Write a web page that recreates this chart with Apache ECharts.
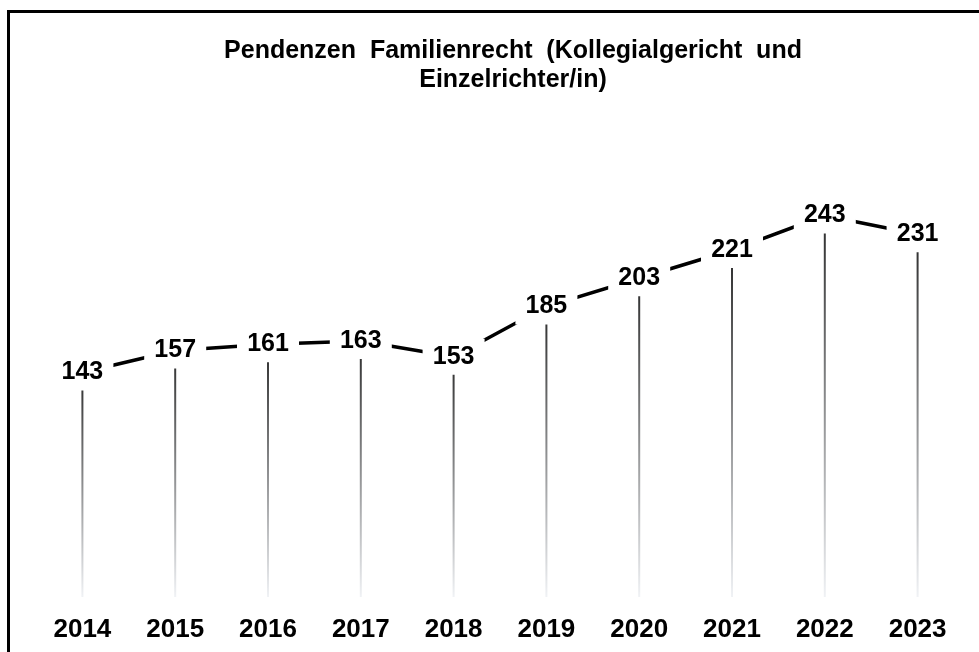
<!DOCTYPE html>
<html>
<head>
<meta charset="utf-8">
<style>
  html, body { margin: 0; padding: 0; background: #fff; }
  #chart { width: 979px; height: 652px; }
</style>
<script src="https://cdn.jsdelivr.net/npm/echarts@6/dist/echarts.min.js"></script>
</head>
<body>
<div id="chart"></div>
<script>
// Jahre und Pendenzen
var years = ['2014', '2015', '2016', '2017', '2018', '2019', '2020', '2021', '2022', '2023'];
var pendenzen = [143, 157, 161, 163, 153, 185, 203, 221, 243, 231];

var chart = echarts.init(document.getElementById('chart'));

var option = {
  backgroundColor: '#fff',
  animation: false,
  title: {
    text: 'Pendenzen  Familienrecht  (Kollegialgericht  und\nEinzelrichter/in)',
    left: 508,
    top: 32,
    textAlign: 'center',
    textStyle: {
      fontFamily: 'Liberation Sans',
      fontWeight: 'bold',
      fontSize: 25,
      lineHeight: 29,
      color: '#000'
    }
  },
  // Rahmen oben und links
  graphic: [{
    type: 'rect',
    shape: { x: 8.5, y: 11.5, width: 1000, height: 700 },
    style: { fill: 'none', stroke: '#000', lineWidth: 3 },
    silent: true
  }],
  grid: {
    left: 36,
    right: 15,
    top: 126,
    bottom: 55
  },
  xAxis: {
    type: 'category',
    data: years,
    boundaryGap: true,
    axisLine: { show: false },
    axisTick: { show: false },
    axisLabel: {
      margin: 20,
      fontFamily: 'Liberation Sans',
      fontWeight: 'bold',
      fontSize: 26,
      color: '#000'
    }
  },
  yAxis: {
    type: 'value',
    min: 0,
    max: 300,
    show: false,
    splitLine: { show: false }
  },
  series: [
    {
      // Falllinien
      type: 'bar',
      data: pendenzen,
      barWidth: 2,
      z: 1,
      itemStyle: {
        color: new echarts.graphic.LinearGradient(0, 0, 0, 1, [
          { offset: 0, color: '#2a2a2a' },
          { offset: 1, color: '#f0f2f5' }
        ])
      }
    },
    {
      type: 'line',
      data: pendenzen,
      symbol: 'none',
      z: 2,
      lineStyle: { color: '#000', width: 3.5 }
    },
    {
      // Beschriftung mit weissem Hintergrund
      type: 'scatter',
      data: pendenzen,
      symbol: 'rect',
      symbolSize: [62, 36],
      z: 3,
      itemStyle: { color: '#fff', opacity: 1 },
      label: {
        show: true,
        position: 'inside',
        formatter: '{c}',
        fontFamily: 'Liberation Sans',
        fontWeight: 'bold',
        fontSize: 25,
        color: '#000'
      }
    }
  ]
};

chart.setOption(option);
</script>
</body>
</html>
